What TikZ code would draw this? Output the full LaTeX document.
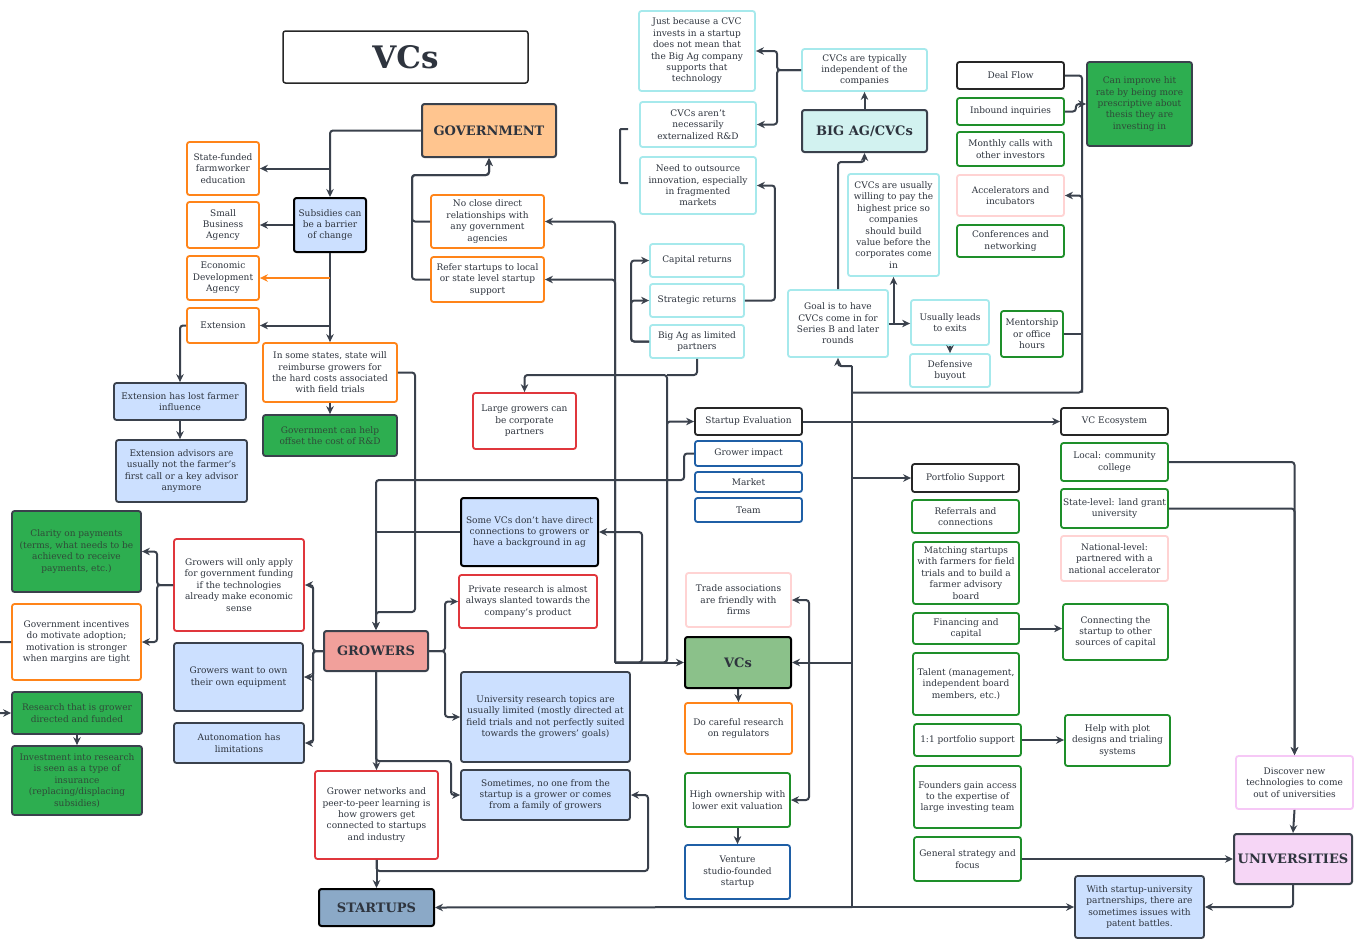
\documentclass[tikz,border=0pt]{standalone}
\usepackage{fontspec}
\setmainfont{DejaVu Serif}
\usetikzlibrary{arrows.meta,calc}
\definecolor{ink}{HTML}{3A414C}
\definecolor{txt}{HTML}{2E343E}
\definecolor{orng}{HTML}{FF8419}
\definecolor{redb}{HTML}{E0363C}
\definecolor{cyanb}{HTML}{A6E9EC}
\definecolor{grnb}{HTML}{1E8F2A}
\definecolor{blub}{HTML}{1F5FA6}
\definecolor{pinkb}{HTML}{FFD3D3}
\definecolor{magb}{HTML}{F6C8F6}
\definecolor{lblue}{HTML}{CCE0FF}
\definecolor{gfill}{HTML}{2DAE50}
\definecolor{gtxt}{HTML}{2F4A38}
\definecolor{govfill}{HTML}{FFC58F}
\definecolor{bigfill}{HTML}{D2F2F0}
\definecolor{growfill}{HTML}{F1A09B}
\definecolor{vcfill}{HTML}{8BC18A}
\definecolor{startfill}{HTML}{8BA9C7}
\definecolor{unifill}{HTML}{F6D6F6}
\newcommand{\boxfont}{\fontsize{9}{11.4}\selectfont}
\newcommand{\hubfont}{\fontsize{13}{15}\selectfont\bfseries}
\newcommand{\titlefont}{\fontsize{31}{34}\selectfont\bfseries}
\tikzset{
  box/.style={rectangle,rounded corners=2.5pt,line width=1.8pt,align=center,inner sep=1pt,text=txt,font=\boxfont,fill=white},
  sz/.style 2 args={minimum width=#1,minimum height=#2},
  obox/.style={box,draw=orng},
  rbox/.style={box,draw=redb},
  cbox/.style={box,draw=cyanb},
  gbox/.style={box,draw=grnb},
  bbox/.style={box,draw=blub},
  pbox/.style={box,draw=pinkb},
  mbox/.style={box,draw=magb},
  kbox/.style={box,draw=black!85},
  lbox/.style={box,draw=ink,fill=lblue},
  gfbox/.style={box,draw=ink,fill=gfill,text=gtxt},
  hub/.style={box,draw=ink,line width=2pt,font=\hubfont},
  conn/.style={draw=ink,line width=2pt,rounded corners=3pt,>={Stealth[length=8pt,width=7.5pt]}}
}

\begin{document}
\begin{tikzpicture}[x=1pt,y=-1pt]
  \useasboundingbox (0,0) rectangle (1357,940);
  \clip (0,0) rectangle (1357,940);
  % government side
  \node[kbox,sz={245}{52},line width=1.5pt,font=\titlefont] (title) at (405.5,57) {VCs};
  \node[hub,fill=govfill,sz={134}{53}] (gov) at (489,130.5) {GOVERNMENT};
  \node[obox,sz={72}{53}] (statef) at (223,168.5) {State-funded\\farmworker\\education};
  \node[obox,sz={72}{46}] (sba) at (223,225) {Small\\Business\\Agency};
  \node[obox,sz={72}{44}] (eda) at (223,278) {Economic\\Development\\Agency};
  \node[obox,sz={72}{35}] (ext) at (223,325.5) {Extension};
  \node[lbox,draw=black,line width=2pt,sz={72}{54}] (subs) at (330,225) {Subsidies can\\be a barrier\\of change};
  \node[obox,sz={134}{59}] (insome) at (330,372.5) {In some states, state will\\reimburse growers for\\the hard costs associated\\with field trials};
  \node[gfbox,sz={134}{41}] (govhelp) at (330,435.5) {Government can help\\offset the cost of\ R\&D};
  \node[lbox,sz={132}{37}] (extlost) at (180,401.5) {Extension has lost farmer\\influence};
  \node[lbox,sz={131}{62}] (extadv) at (181.5,471) {Extension advisors are\\usually not the farmer's\\first call or a key advisor\\anymore};
  \node[obox,sz={113}{53}] (norel) at (487.5,221.5) {No close direct\\relationships with\\any government\\agencies};
  \node[obox,sz={113}{45}] (refer) at (487.5,279.5) {Refer startups to local\\or state level startup\\support};
  % big ag
  \node[cbox,sz={116}{80}] (just) at (697,51) {Just because a CVC\\invests in a startup\\does not mean that\\the Big Ag company\\supports that\\technology};
  \node[cbox,sz={116}{45}] (cvcnot) at (698,124.5) {CVCs aren't\\necessarily\\externalized R\&D};
  \node[cbox,sz={116}{57}] (outsrc) at (698,185.5) {Need to outsource\\innovation, especially\\in fragmented\\markets};
  \node[cbox,sz={94}{33}] (capret) at (697,260.5) {Capital returns};
  \node[cbox,sz={94}{33}] (stratret) at (697,300.5) {Strategic returns};
  \node[cbox,sz={94}{33}] (biglp) at (697,341.5) {Big Ag as limited\\partners};
  \node[cbox,sz={125}{42}] (cvctyp) at (864.5,70) {CVCs are typically\\independent of the\\companies};
  \node[hub,fill=bigfill,sz={125}{42}] (bigag) at (864.5,131) {BIG AG/CVCs};
  \node[cbox,sz={91}{102}] (willing) at (893.5,225) {CVCs are usually\\willing to pay the\\highest price so\\companies\\should build\\value before the\\corporates come\\in};
  \node[cbox,sz={100}{67}] (goal) at (838,323.5) {Goal is to have\\CVCs come in for\\Series B and later\\rounds};
  \node[cbox,sz={78}{45}] (exits) at (950,322.5) {Usually leads\\to exits};
  \node[cbox,sz={80}{33}] (defbuy) at (950,370.5) {Defensive\\buyout};
  % deal flow
  \node[kbox,sz={107}{27}] (deal) at (1010.5,75.5) {Deal Flow};
  \node[gbox,sz={107}{27}] (inbound) at (1010.5,111.5) {Inbound inquiries};
  \node[gbox,sz={107}{34}] (monthly) at (1010.5,149) {Monthly calls with\\other investors};
  \node[pbox,sz={107}{41}] (accel) at (1010.5,195.5) {Accelerators and\\incubators};
  \node[gbox,sz={107}{32}] (confs) at (1010.5,241) {Conferences and\\networking};
  \node[gbox,sz={62}{46}] (mentor) at (1032,334) {Mentorship\\or office\\hours};
  \node[gfbox,sz={105}{84}] (hitrate) at (1139.5,104) {Can improve hit\\rate by being more\\prescriptive about\\thesis they are\\investing in};
  % vcs
  \node[kbox,sz={107}{27}] (steval) at (748.5,421.5) {Startup Evaluation};
  \node[bbox,sz={107}{25}] (grimp) at (748.5,453.5) {Grower impact};
  \node[bbox,sz={107}{20}] (market) at (748.5,482) {Market};
  \node[bbox,sz={107}{24}] (team) at (748.5,510) {Team};
  \node[rbox,sz={103}{56}] (largegr) at (524.5,421) {Large growers can\\be corporate\\partners};
  \node[lbox,draw=black,line width=2pt,sz={137}{68}] (somevc) at (529.5,532) {Some VCs don't have direct\\connections to growers or\\have a background in ag};
  \node[rbox,sz={138}{53}] (privres) at (528,601.5) {Private research is almost\\always slanted towards the\\company's product};
  \node[pbox,sz={105}{54}] (trade) at (738.5,600) {Trade associations\\are friendly with\\firms};
  \node[hub,fill=vcfill,draw=black,sz={106}{51}] (vcs) at (738,662.5) {VCs};
  \node[obox,sz={107}{51}] (careful) at (738.5,728.5) {Do careful research\\on regulators};
  \node[gbox,sz={105}{54}] (highown) at (737.5,800) {High ownership with\\lower exit valuation};
  \node[bbox,sz={105}{54}] (studio) at (737.5,872) {Venture\\studio-founded\\startup};
  \node[lbox,sz={169}{90}] (univres) at (545.5,717) {University research topics are\\usually limited (mostly directed at\\field trials and not perfectly suited\\towards the growers' goals)};
  \node[lbox,sz={169}{50}] (sometimes) at (545.5,795) {Sometimes, no one from the\\startup is a grower or comes\\from a family of growers};
  % growers
  \node[hub,fill=growfill,sz={104}{40}] (growers) at (376,651) {GROWERS};
  \node[rbox,sz={123}{88}] (grnet) at (376.5,815) {Grower networks and\\peer-to-peer learning is\\how growers get\\connected to startups\\and industry};
  \node[hub,fill=startfill,draw=black,sz={115}{37}] (startups) at (376.5,907.5) {STARTUPS};
  \node[rbox,sz={130}{92}] (onlyapp) at (239,585) {Growers will only apply\\for government funding\\if the technologies\\already make economic\\sense};
  \node[lbox,sz={129}{68}] (ownequip) at (238.5,677) {Growers want to own\\their own equipment};
  \node[lbox,sz={130}{40}] (autonom) at (239,743) {Autonomation has\\limitations};
  \node[gfbox,sz={129}{81}] (clarity) at (76.5,551.5) {Clarity on payments\\(terms, what needs to be\\achieved to receive\\payments, etc.)};
  \node[obox,sz={129}{76}] (govinc) at (76.5,642) {Government incentives\\do motivate adoption;\\motivation is stronger\\when margins are tight};
  \node[gfbox,sz={130}{42}] (resgrow) at (77,713) {Research that is grower\\directed and funded};
  \node[gfbox,sz={130}{69}] (insure) at (77,780.5) {Investment into research\\is seen as a type of\\insurance\\(replacing/displacing\\subsidies)};
  % universities
  \node[kbox,sz={107}{27}] (vceco) at (1114.5,421.5) {VC Ecosystem};
  \node[gbox,sz={107}{38}] (local) at (1114.5,462) {Local: community\\college};
  \node[gbox,sz={107}{39}] (statelv) at (1114.5,508.5) {State-level: land grant\\university};
  \node[pbox,sz={107}{45}] (natlv) at (1114.5,558.5) {National-level:\\partnered with a\\national accelerator};
  \node[gbox,sz={105}{56}] (connect) at (1115.5,632) {Connecting the\\startup to other\\sources of capital};
  \node[gbox,sz={105}{51}] (plot) at (1117.5,740.5) {Help with plot\\designs and trialing\\systems};
  \node[mbox,sz={117}{53}] (discover) at (1294.5,782.5) {Discover new\\technologies to come\\out of universities};
  \node[hub,fill=unifill,sz={118}{50}] (univ) at (1293,859) {UNIVERSITIES};
  \node[lbox,sz={129}{62}] (patent) at (1139.5,907) {With startup-university\\partnerships, there are\\sometimes issues with\\patent battles.};
  % portfolio
  \node[kbox,sz={107}{28}] (portsup) at (965.5,478) {Portfolio Support};
  \node[gbox,sz={107}{33}] (referral) at (965.5,516.5) {Referrals and\\connections};
  \node[gbox,sz={106}{62}] (matching) at (966,573) {Matching startups\\with farmers for field\\trials and to build a\\farmer advisory\\board};
  \node[gbox,sz={106}{31}] (finance) at (966,628.5) {Financing and\\capital};
  \node[gbox,sz={106}{62}] (talent) at (966,684) {Talent (management,\\independent board\\members, etc.)};
  \node[gbox,sz={107}{32}] (oneone) at (967.5,740) {1:1 portfolio support};
  \node[gbox,sz={107}{62}] (founders) at (967.5,797) {Founders gain access\\to the expertise of\\large investing team};
  \node[gbox,sz={107}{44}] (strategy) at (967.5,859) {General strategy and\\focus};

  \coordinate (vbus) at (615,662.5); \coordinate (tbus) at (809,662.5);
  \coordinate (dbus) at (1082,392.5); \coordinate (stop) at (852,366); \coordinate (sbot) at (852,907);

  % government links
  \draw[conn,->] (gov.west) -| (subs.north);
  \draw[conn,->] (subs.north |- statef.east) -- (statef.east);
  \draw[conn,->] (subs.west) -- (sba.east);
  \draw[conn,->] (subs.south) -- (insome.north);
  \draw[conn,draw=orng,->] (subs.south |- eda.east) -- (eda.east);
  \draw[conn,->] (subs.south |- ext.east) -- (ext.east);
  \draw[conn,->] (ext.west) -| (extlost.north);
  \draw[conn,->] (extlost.south) -- (extlost.south |- extadv.north);
  \draw[conn,->] (insome.south) -- (govhelp.north);
  \draw[conn,->] (insome.east) -| (415,612) -| (growers.north);
  \draw[conn,->] (norel.west) -| (412,175) -| (gov.south);
  \draw[conn,->] (refer.west) -| (412,175) -| (gov.south);

  % vcs links
  \draw[conn,->] (vbus) -- (vcs.west);
  \draw[conn,->] (vbus) |- (norel.east);
  \draw[conn,->] (vbus) |- (refer.east);
  \draw[conn,->] (vbus) -| (642,532) -- (somevc.east);
  \draw[conn,->] (vbus) -| (667,375) -| (largegr.north);
  \draw[conn] (biglp.south) |- (667,375);
  \draw[conn,->] (vbus) -| (667,421.5) -- (steval.west);
  \draw[conn,->] (steval.east) -- (vceco.west);
  \draw[conn,->] (grimp.west) -- ++(-10,0) |- (growers.north |- 0,480) -- (growers.north);
  \draw[conn] (somevc.west) -- (growers.north |- somevc.west);
  \draw[conn,->] (vcs.south) -- (careful.north);
  \draw[conn,->] (highown.south) -- (studio.north);
  \draw[conn,->] (tbus) |- (trade.east);
  \draw[conn,->] (tbus) |- (highown.east);

  % big ag links
  \draw[conn,->] (biglp.west) -- ++(-18,0) |- (capret.west);
  \draw[conn,->] (biglp.west) -- ++(-18,0) |- (stratret.west);
  \draw[conn,->] (stratret.east) -- ++(30,0) |- (outsrc.east);
  \draw[conn,rounded corners=1pt] (628,129) -- (620,129) -- (620,183) -- (628,183);
  \draw[conn,->] (cvctyp.west) -- ++(-24,0) |- (just.east);
  \draw[conn,->] (cvctyp.west) -- ++(-24,0) |- (cvcnot.east);
  \draw[conn,->] (bigag.north) -- (cvctyp.south);
  \draw[conn,->] (goal.north) |- ($(bigag.south)+(0,9)$) -- (bigag.south);
  \draw[conn,->] (goal.east) -- (goal.east -| exits.west);
  \draw[conn,->] (goal.east -| willing.south) -- (willing.south);
  \draw[conn,->] (exits.south) -- (defbuy.north);

  % deal flow and bus
  \draw[conn] (deal.east) -| (dbus) -- (dbus -| stop);
  \draw[conn,->] (dbus) |- (accel.east);
  \draw[conn] (mentor.east) -- (mentor.east -| dbus);
  \draw[conn,->] (inbound.east) -- ++(11,0) |- (hitrate.west);
  \draw[conn] (stop) -- (sbot);
  \draw[conn,->] (stop) -| (goal.south);
  \draw[conn,->] (stop |- portsup.west) -- (portsup.west);
  \draw[conn,->] (stop |- vcs.east) -- (vcs.east);
  \draw[conn,->] (sbot) -- (startups.east);
  \draw[conn,->] (sbot) -- (patent.west);

  % portfolio and universities
  \draw[conn,->] (finance.east) -- (finance.east -| connect.west);
  \draw[conn,->] (oneone.east) -- (oneone.east -| plot.west);
  \draw[conn,->] (local.east) -| (discover.north);
  \draw[conn,->] (statelv.east) -| (discover.north);
  \draw[conn,->] (discover.south) -- (univ.north);
  \draw[conn,->] (strategy.east) -- (strategy.east -| univ.west);
  \draw[conn,->] (univ.south) |- (patent.east);

  % growers links
  \draw[conn,->] (growers.east) -- ++(16,0) |- (privres.west);
  \draw[conn,->] (growers.east) -- ++(16,0) |- (univres.west);
  \draw[conn,->] (growers.west) -- ++(-10,0) |- (onlyapp.east);
  \draw[conn,->] (growers.west) -- ++(-10,0) |- (ownequip.east);
  \draw[conn,->] (growers.west) -- ++(-10,0) |- (autonom.east);
  \draw[conn,->] (onlyapp.west) -- ++(-16,0) |- (clarity.east);
  \draw[conn,->] (onlyapp.west) -- ++(-16,0) |- (govinc.east);
  \draw[conn,->] (govinc.west) -- ++(-16,0) |- (resgrow.west);
  \draw[conn,->] (resgrow.south) -- (insure.north);
  \draw[conn,->] (growers.south) -- (grnet.north);
  \draw[conn,->] (growers.south) |- (451,761) |- (sometimes.west);
  \draw[conn,->] (grnet.south) -- (startups.north);
  \draw[conn,->] (grnet.south) |- (648,871) |- (sometimes.east);
\end{tikzpicture}
\end{document}
